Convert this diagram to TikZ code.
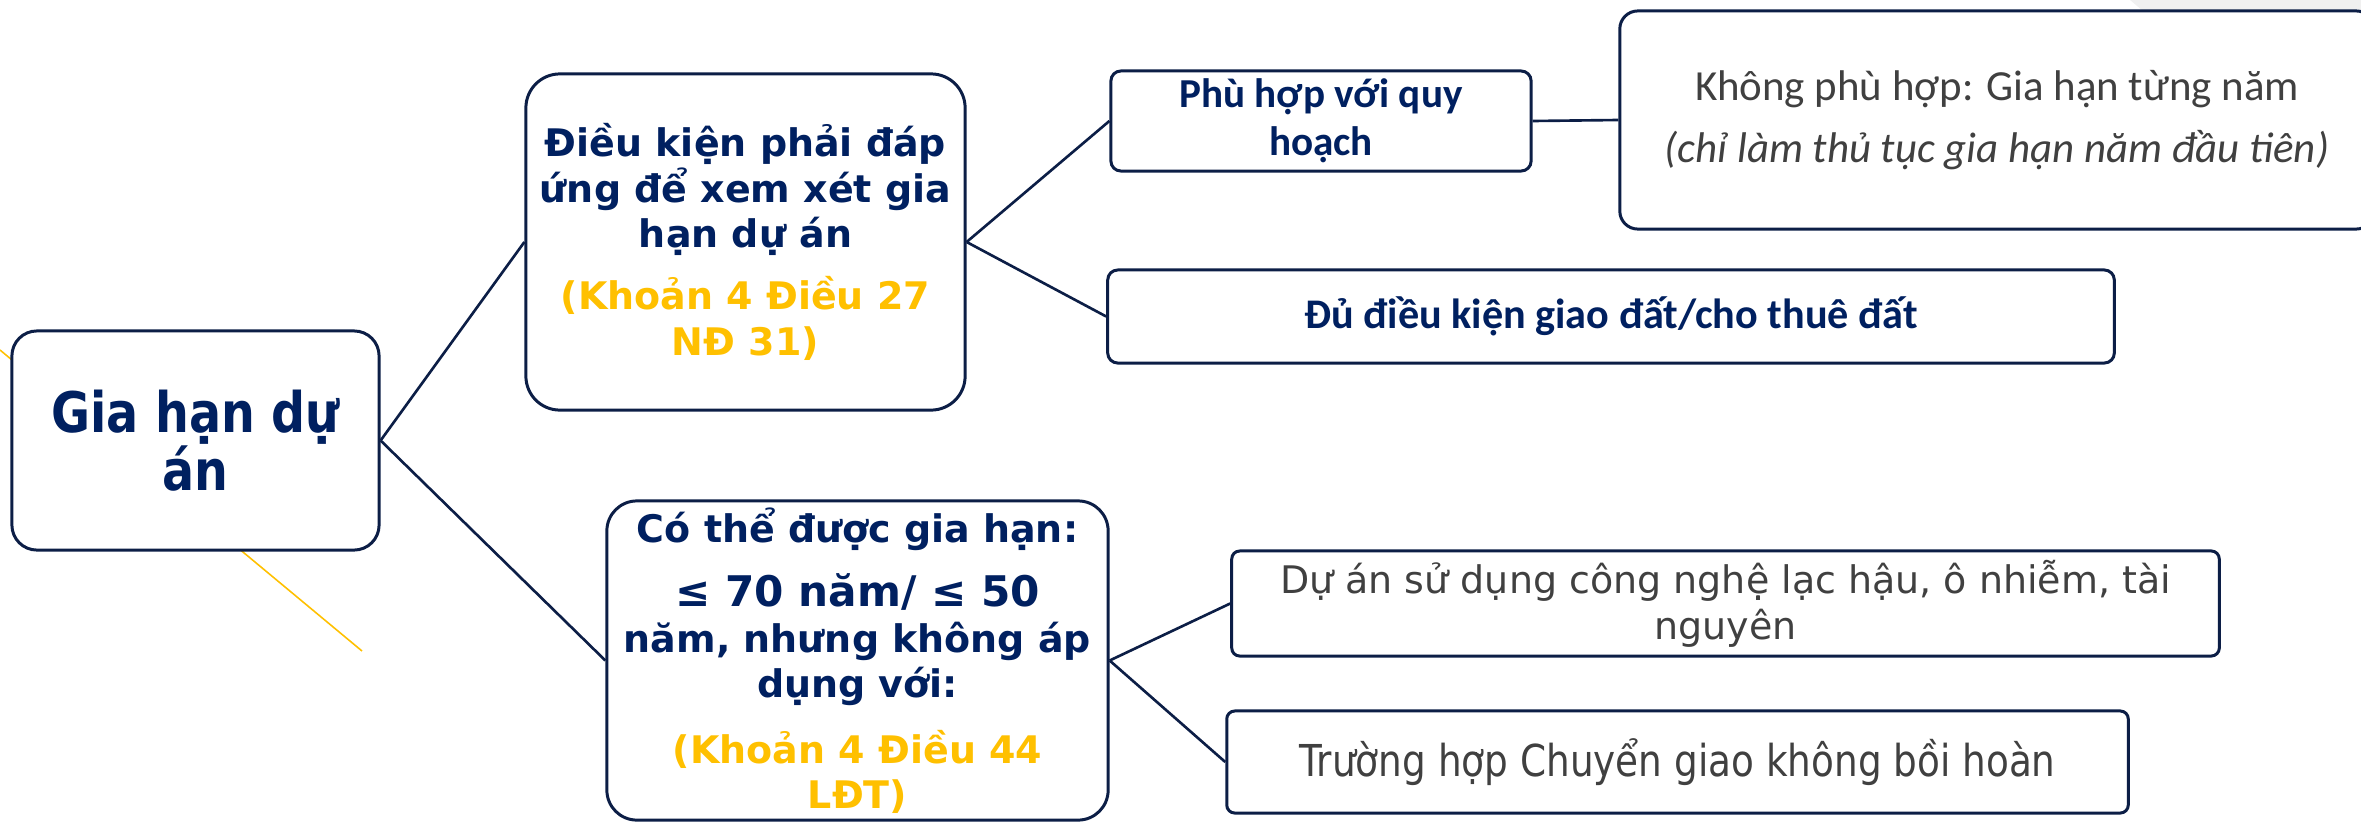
\documentclass[tikz,border=0pt]{standalone}
\usepackage{fontspec}
\setmainfont{DejaVu Sans}
\newfontfamily\narrowfont{DejaVu Sans}[FakeStretch=0.85]
\newfontfamily\calfont{Carlito}
\definecolor{navy}{RGB}{0,32,96}
\definecolor{edge}{RGB}{12,30,70}
\definecolor{gold}{RGB}{255,192,0}
\definecolor{txtgray}{RGB}{64,64,64}
\definecolor{bggray}{RGB}{240,240,240}
\tikzset{
  box/.style={draw=edge, line width=0.85pt, fill=white, align=center, inner sep=0pt},
  conn/.style={draw=edge, line width=0.75pt},
  accent/.style={draw=gold, line width=0.45pt},
  boldtext/.style={text=navy, font=\bfseries\fontsize{10.8}{12.9}\selectfont},
}
\begin{document}
\begin{tikzpicture}[x=0.01cm, y=-0.01cm]
\useasboundingbox (0,0) rectangle (2361,821);
\clip (0,0) rectangle (2361,821);
% background decorations
\fill[bggray] (2130,0) -- (2361,0) -- (2361,11) -- (2143,11) -- cycle;
\coordinate (ya) at (0,350);
\coordinate (yb) at (362,651);
\draw[accent] (ya) -- (yb);

% nodes
\node[box, rounded corners=0.25cm, minimum width=3.67cm, minimum height=2.19cm,
      text=navy, font=\narrowfont\bfseries\fontsize{15.9}{16.5}\selectfont]
  (root) at (195.5,440.5) {Gia hạn dự\\án};

\node[box, rounded corners=0.34cm, minimum width=4.39cm, minimum height=3.36cm, boldtext]
  (cond) at (745.5,242) {Điều kiện phải đáp\\ứng để xem xét gia\\hạn dự án\\[4.8pt]\color{gold}(Khoản 4 Điều 27\\\color{gold}NĐ 31)};

\node[box, rounded corners=0.3cm, minimum width=5.01cm, minimum height=3.19cm, boldtext]
  (ext) at (857.5,660.5) {Có thể được gia hạn:\\[5.5pt]{\fontsize{12}{12.9}\selectfont ≤ 70 năm/ ≤ 50}\\năm, nhưng không áp\\dụng với:\\[5.8pt]\color{gold}(Khoản 4 Điều 44\\\color{gold}LĐT)};

\node[box, rounded corners=0.1cm, minimum width=4.2cm, minimum height=1.0cm,
      text=navy, font=\calfont\bfseries\fontsize{11.7}{13.7}\selectfont]
  (phu) at (1321,121) {Phù hợp với quy\\hoạch};

\node[box, rounded corners=0.1cm, minimum width=10.06cm, minimum height=0.93cm,
      text=navy, font=\calfont\bfseries\fontsize{12}{14}\selectfont]
  (du) at (1611,316.5) {Đủ điều kiện giao đất/cho thuê đất};

\node[box, rounded corners=0.18cm, minimum width=7.54cm, minimum height=2.18cm,
      text=txtgray, font=\calfont\fontsize{12.2}{17.6}\selectfont]
  (khong) at (1997,120) {Không phù hợp: Gia hạn từng năm\\\itshape (chỉ làm thủ tục gia hạn năm đầu tiên)};

\node[box, rounded corners=0.08cm, minimum width=9.87cm, minimum height=1.05cm,
      text=txtgray, font=\fontsize{10.8}{13.1}\selectfont]
  (duan) at (1725.5,603.5) {Dự án sử dụng công nghệ lạc hậu, ô nhiễm, tài\\nguyên};

\node[box, rounded corners=0.08cm, minimum width=9.01cm, minimum height=1.02cm,
      text=txtgray, font=\narrowfont\fontsize{12.5}{15}\selectfont]
  (truong) at (1677.5,762) {Trường hợp Chuyển giao không bồi hoàn};

% connectors
\draw[conn] (root.east) -- (cond.west);
\draw[conn] (root.east) -- (ext.west);
\draw[conn] (cond.east) -- (phu.west);
\draw[conn] (cond.east) -- (du.west);
\draw[conn] (phu.east) -- (khong.west);
\draw[conn] (ext.east) -- (duan.west);
\draw[conn] (ext.east) -- (truong.west);
\end{tikzpicture}
\end{document}
